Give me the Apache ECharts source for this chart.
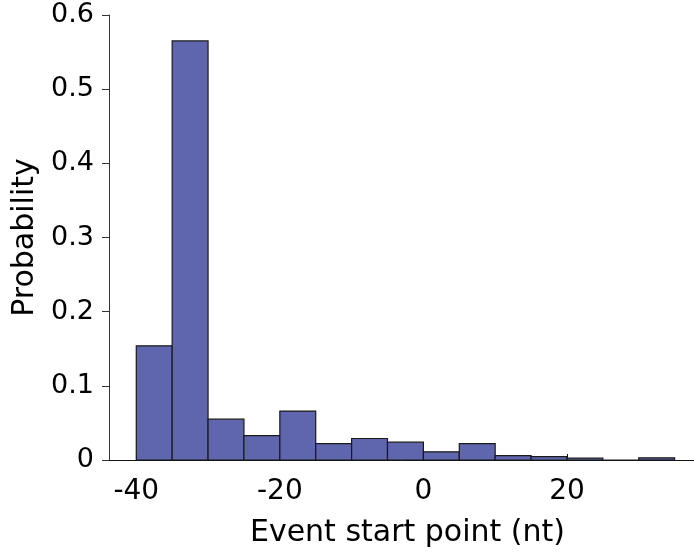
<!DOCTYPE html>
<html>
<head>
<meta charset="utf-8">
<script src="https://cdn.jsdelivr.net/npm/echarts@6/dist/echarts.min.js"></script>
<style>
  html, body { margin: 0; padding: 0; background: #fff; }
  #chart { width: 694px; height: 556px; }
</style>
</head>
<body>
<div id="chart"></div>
<script>
// histogram bins, width 5 nt
var binStart = [-40, -35, -30, -25, -20, -15, -10, -5, 0, 5, 10, 15, 20, 25, 30];
var binWidth = 5;
var probability = [0.154, 0.565, 0.055, 0.033, 0.066, 0.022, 0.029, 0.024, 0.011, 0.022, 0.006, 0.0045, 0.0025, 0, 0.003];
var xTicks = [-40, -20, 0, 20];

var font = 'DejaVu Sans';
var myChart = echarts.init(document.getElementById('chart'));

var data = binStart.map(function (s, i) { return [s, probability[i]]; });

var option = {
  animation: false,
  grid: { left: 109, right: 0, top: 15, bottom: 96 },
  xAxis: {
    type: 'value',
    min: -43.8,
    max: 37.7,
    name: 'Event start point (nt)',
    nameLocation: 'middle',
    nameGap: 58,
    nameTextStyle: { fontFamily: font, fontSize: 30, color: '#000', padding: [0, 0, 0, 12] },
    axisLine: { show: true, onZero: false, lineStyle: { color: '#111', width: 1 } },
    axisTick: { show: true, inside: true, length: 6, customValues: xTicks, lineStyle: { color: '#111' } },
    axisLabel: { customValues: xTicks, margin: 18, fontFamily: font, fontSize: 28, color: '#000' },
    splitLine: { show: false }
  },
  yAxis: {
    type: 'value',
    min: 0,
    max: 0.6,
    interval: 0.1,
    name: 'Probability',
    nameLocation: 'middle',
    nameGap: 66,
    nameTextStyle: { fontFamily: font, fontSize: 30, color: '#000' },
    axisLine: { show: true, onZero: false, lineStyle: { color: '#333', width: 1 } },
    axisTick: { show: true, inside: false, length: 7, lineStyle: { color: '#333' } },
    axisLabel: {
      margin: 15, fontFamily: font, fontSize: 27, color: '#000',
      formatter: function (v) { return v === 0 ? '0' : v.toFixed(1); }
    },
    splitLine: { show: false }
  },
  series: [{
    type: 'custom',
    data: data,
    renderItem: function (params, api) {
      var x0 = api.value(0);
      var y = api.value(1);
      var p1 = api.coord([x0, y]);
      var p2 = api.coord([x0 + binWidth, 0]);
      return {
        type: 'rect',
        shape: { x: p1[0], y: p1[1], width: p2[0] - p1[0], height: p2[1] - p1[1] },
        style: { fill: '#5f66ad', stroke: '#1a1a1a', lineWidth: 1.2 }
      };
    }
  }]
};
myChart.setOption(option);
</script>
</body>
</html>
